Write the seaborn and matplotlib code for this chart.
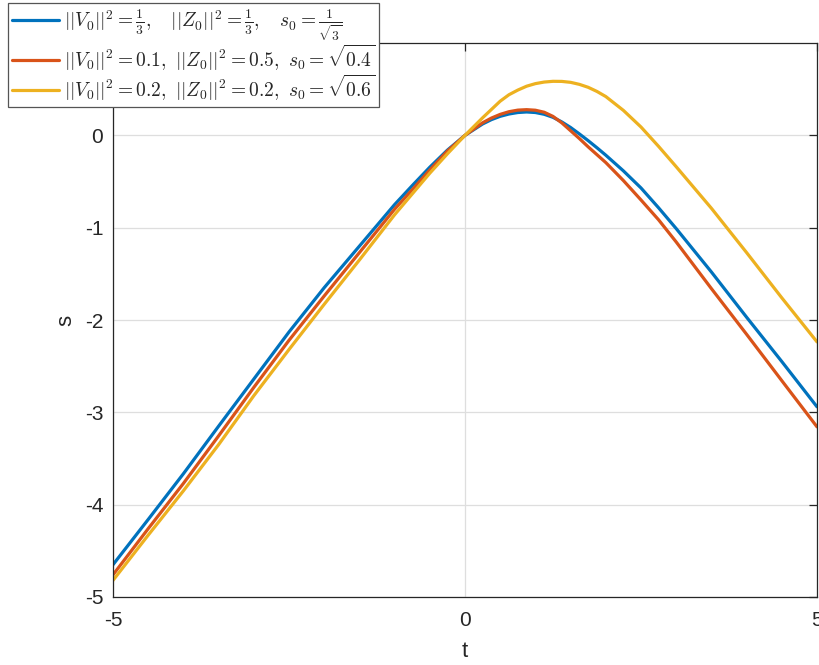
import matplotlib
matplotlib.use("Agg")
import matplotlib.pyplot as plt
import numpy as np
import pandas as pd
import seaborn as sns

# Sample times and the three trajectories s(t)
t_vals = [-5.0, -4.5, -4.0, -3.5, -3.0, -2.5, -2.0, -1.5, -1.0, -0.75, -0.5, -0.25,
          0.0, 0.25, 0.375, 0.5, 0.625, 0.75, 0.875, 1.0, 1.125, 1.25, 1.375,
          1.5, 1.625, 1.75, 1.875, 2.0, 2.25, 2.5, 2.75, 3.0, 3.5, 4.0, 4.5, 5.0]

s_blue = [-4.65, -4.16, -3.665, -3.15, -2.64, -2.13, -1.65, -1.20, -0.75, -0.545, -0.345, -0.16,
          0.0, 0.123, 0.17, 0.206, 0.231, 0.247, 0.253, 0.247, 0.228, 0.195, 0.145,
          0.085, 0.015, -0.058, -0.135, -0.215, -0.385, -0.57, -0.785, -1.01, -1.48, -1.97, -2.45, -2.94]

s_red = [-4.76, -4.26, -3.77, -3.255, -2.73, -2.22, -1.74, -1.27, -0.80, -0.59, -0.375, -0.17,
         0.0, 0.136, 0.187, 0.227, 0.256, 0.273, 0.278, 0.272, 0.25, 0.205, 0.135,
         0.05, -0.035, -0.125, -0.21, -0.295, -0.49, -0.70, -0.915, -1.155, -1.66, -2.155, -2.657, -3.157]

s_yellow = [-4.82, -4.33, -3.85, -3.35, -2.82, -2.32, -1.83, -1.35, -0.86, -0.635, -0.41, -0.2,
            0.0, 0.19, 0.28, 0.37, 0.44, 0.49, 0.532, 0.56, 0.577, 0.585, 0.584,
            0.574, 0.552, 0.52, 0.475, 0.42, 0.27, 0.09, -0.12, -0.34, -0.79, -1.27, -1.76, -2.237]

labels = [
    r"$||V_0||^2 = \frac{1}{3},\quad ||Z_0||^2 = \frac{1}{3},\quad s_0 = \frac{1}{\sqrt{3}}$",
    r"$||V_0||^2 = 0.1,\ ||Z_0||^2 = 0.5,\ s_0 = \sqrt{0.4}$",
    r"$||V_0||^2 = 0.2,\ ||Z_0||^2 = 0.2,\ s_0 = \sqrt{0.6}$",
]
colors = ["#0072BD", "#D95319", "#EDB120"]

x_ticks = [-5, 0, 5]
y_ticks = [-5, -4, -3, -2, -1, 0]

frames = []
for name, vals in zip(labels, [s_blue, s_red, s_yellow]):
    frames.append(pd.DataFrame({"t": t_vals, "s": vals, "case": name}))
df = pd.concat(frames, ignore_index=True)

sns.set_theme(style="white")
plt.rcParams["font.family"] = ["Liberation Sans", "DejaVu Sans"]
plt.rcParams["mathtext.fontset"] = "cm"

fig = plt.figure(figsize=(8.2, 6.65), dpi=100)
ax = fig.add_axes([113 / 820, 68 / 665, 704 / 820, 554 / 665])

sns.lineplot(data=df, x="t", y="s", hue="case", palette=colors,
             estimator=None, sort=False, linewidth=2.3, legend=False, ax=ax)

ax.set_xlim(-5, 5)
ax.set_ylim(-5, 1)
ax.set_xticks(x_ticks)
ax.set_yticks(y_ticks)
ax.set_xticklabels([str(v) for v in x_ticks])
ax.set_yticklabels([str(v) for v in y_ticks])

axis_col = "#262626"
ax.grid(True, color="#dedede", linewidth=0.9)
ax.set_axisbelow(True)
for sp in ax.spines.values():
    sp.set_visible(True)
    sp.set_color(axis_col)
    sp.set_linewidth(0.9)
ax.tick_params(axis="both", which="both", direction="in", length=5.5, width=0.9,
               color=axis_col, labelcolor=axis_col, labelsize=15,
               top=True, right=True, pad=7)
ax.tick_params(axis="x", pad=10)

ax.set_xlabel("t", fontsize=16, color=axis_col, labelpad=8)
ax.set_ylabel("s", fontsize=16, color=axis_col, labelpad=6)

handles = ax.get_lines()[:3]
leg = fig.legend(handles, labels, loc="upper left",
                 bbox_to_anchor=(8 / 820, 1 - 3 / 665), fontsize=14,
                 frameon=True, fancybox=False, framealpha=1.0,
                 edgecolor="#555555", borderpad=0.2, labelspacing=0.0,
                 handlelength=2.4, handletextpad=0.3, borderaxespad=0)
leg.get_frame().set_linewidth(0.9)
leg.set_zorder(10)

fig.savefig("out.png", dpi=100)
